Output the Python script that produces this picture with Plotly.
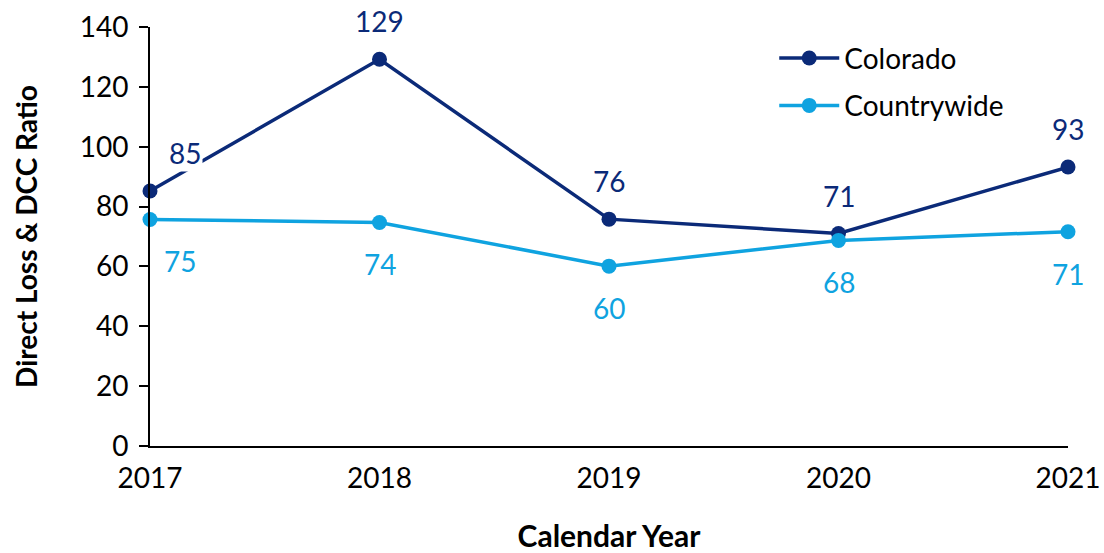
import plotly.graph_objects as go

# data
years = [2017, 2018, 2019, 2020, 2021]
colorado = [85.2, 129.2, 75.8, 71.0, 93.2]
countrywide = [75.7, 74.7, 60.1, 68.7, 71.6]
colorado_labels = ["85", "129", "76", "71", "93"]
countrywide_labels = ["75", "74", "60", "68", "71"]

navy = "#0B2A78"
sky = "#0FA3E0"
font = "Lato, Calibri, Arial, sans-serif"

fig = go.Figure()
fig.add_trace(go.Scatter(x=years, y=colorado, name="Colorado", mode="lines+markers",
                         legendgroup="co",
                         line=dict(color=navy, width=3.5), marker=dict(size=15, color=navy),
                         cliponaxis=False))
fig.add_trace(go.Scatter(x=years, y=countrywide, name="Countrywide", mode="lines+markers",
                         legendgroup="cw",
                         line=dict(color=sky, width=3.5), marker=dict(size=15, color=sky),
                         cliponaxis=False))

# data labels
for i, (x, y, t) in enumerate(zip(years, colorado, colorado_labels)):
    fig.add_annotation(x=x, y=y, text=t, showarrow=False, bgcolor="white",
                       xshift=35 if i == 0 else 0, yshift=38,
                       font=dict(size=28, color=navy, family=font))
for i, (x, y, t) in enumerate(zip(years, countrywide, countrywide_labels)):
    fig.add_annotation(x=x, y=y, text=t, showarrow=False,
                       xshift=30 if i == 0 else 0, yshift=-42,
                       font=dict(size=28, color=sky, family=font))

fig.update_layout(
    width=1104, height=553,
    margin=dict(l=150, r=36, t=27, b=107),
    paper_bgcolor="white", plot_bgcolor="white",
    font=dict(family=font, size=26, color="black"),
    showlegend=True,
    legend=dict(x=0.68, y=0.985, xanchor="left", yanchor="top",
                font=dict(size=28, family=font), itemwidth=60,
                tracegroupgap=8, bgcolor="rgba(0,0,0,0)"),
    xaxis=dict(range=[2017, 2021], tickvals=years, ticktext=[str(y) for y in years],
               showgrid=False, zeroline=False, showline=True, linecolor="black",
               linewidth=2, ticks="", tickfont=dict(size=28, family=font),
               ticklabelstandoff=6, automargin=False,
               title=dict(text="<b>Calendar Year</b>", font=dict(size=30, family=font),
                          standoff=44)),
    yaxis=dict(range=[0, 140], dtick=20, showgrid=False, zeroline=False,
               showline=True, linecolor="black", linewidth=2, ticks="outside",
               ticklen=9, tickwidth=2, tickcolor="black",
               tickfont=dict(size=28, family=font), ticklabelstandoff=5,
               automargin=False,
               title=dict(text="<b>Direct Loss &amp; DCC Ratio</b>",
                          font=dict(size=28, family=font), standoff=34)),
)

fig.write_html("out.html", config={"displayModeBar": False},
               post_script="document.body.style.margin='0';")
